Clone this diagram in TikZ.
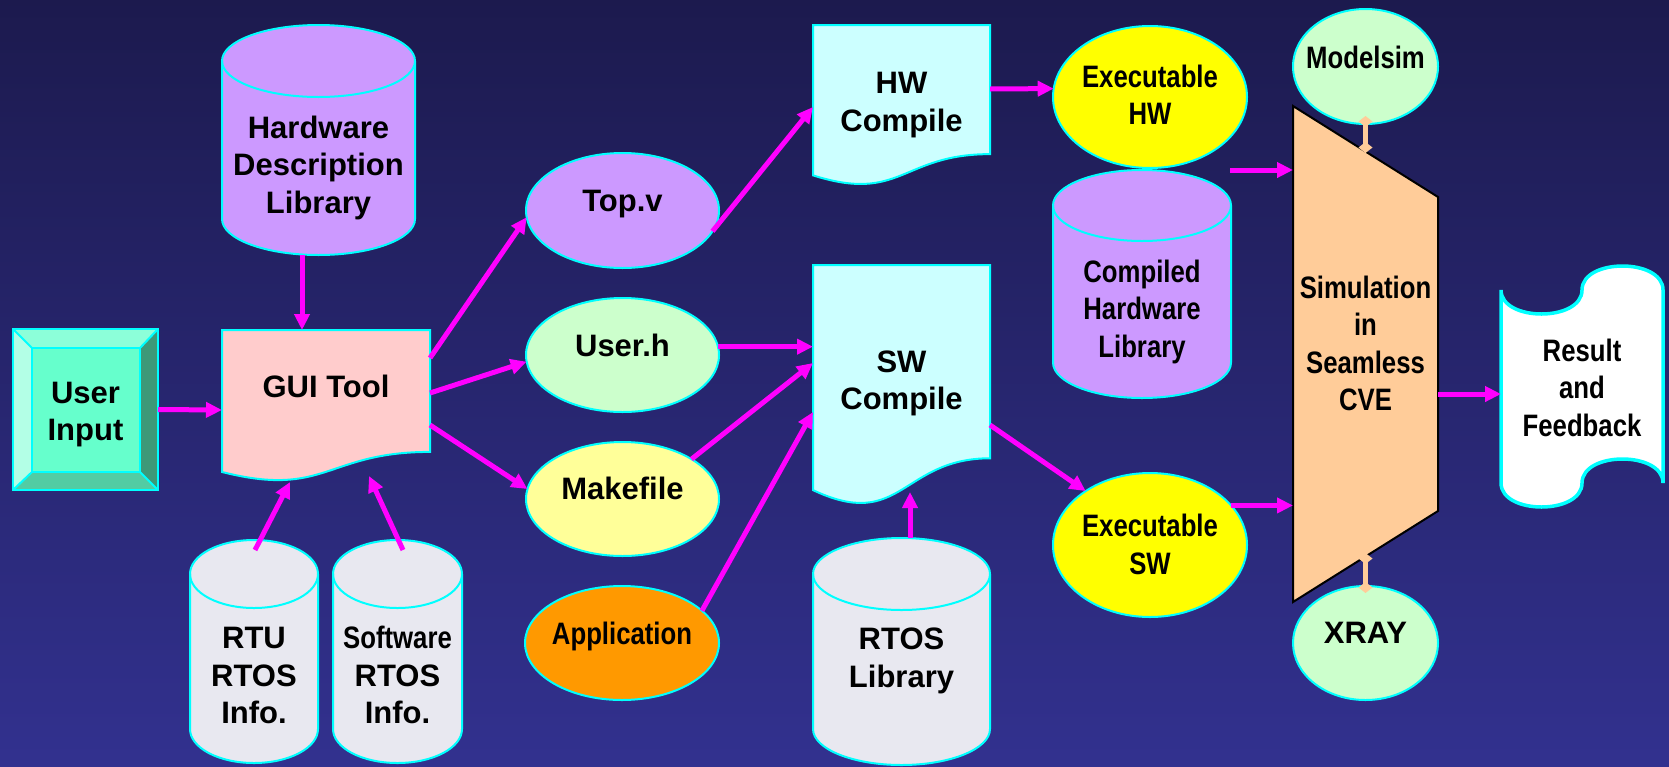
\documentclass[tikz,border=0pt]{standalone}
\usepackage{fontspec}
\setmainfont{Liberation Sans}
\newfontfamily\narrowfont{Liberation Sans}[FakeStretch=0.83]
\usetikzlibrary{shapes.geometric,arrows.meta,calc}

\definecolor{bgtop}{RGB}{28,26,78}
\definecolor{bgbot}{RGB}{50,49,143}
\definecolor{edge}{RGB}{0,255,255}
\definecolor{link}{RGB}{255,0,255}
\definecolor{lilac}{RGB}{204,153,255}
\definecolor{mint}{RGB}{204,255,204}
\definecolor{cream}{RGB}{255,255,153}
\definecolor{amber}{RGB}{255,153,0}
\definecolor{lemon}{RGB}{255,255,0}
\definecolor{ice}{RGB}{204,255,255}
\definecolor{blush}{RGB}{255,204,204}
\definecolor{silver}{RGB}{232,232,240}
\definecolor{peach}{RGB}{255,204,153}
\definecolor{keyface}{RGB}{102,255,204}
\definecolor{keytop}{RGB}{140,255,217}
\definecolor{keyleft}{RGB}{179,255,230}
\definecolor{keyright}{RGB}{61,153,120}
\definecolor{keybottom}{RGB}{82,204,163}

\newcommand\bigfont{\fontsize{31pt}{37.5pt}\selectfont\bfseries}
\newcommand\slimfont{\narrowfont\fontsize{31pt}{37.5pt}\selectfont\bfseries}
% text with fixed strut above the first line and below the last line
\newcommand\padtext[3]{\rule{0pt}{#1pt}#3\rule[-#2pt]{0pt}{#2pt}}

% flowchart document outline around a node
\newcommand\docpath[2]{%
  \filldraw[fill=#2, rim] (#1.north west) -- (#1.north east)
    -- ($(#1.north east)!0.802!(#1.south east)$)
    .. controls ($(#1.north)!0.802!(#1.south)$) and ($(#1.north)!1.1075!(#1.south)$)
    .. ($(#1.north west)!0.934!(#1.south west)$) -- cycle;}

% database cylinder around a node: node, x radius, y radius, fill
\newcommand\cylpath[4]{%
  \filldraw[fill=#4, rim] ($(#1.north west)+(0,#3)$) -- ($(#1.south west)+(0,-#3)$)
    arc[start angle=180, end angle=360, x radius=#2pt, y radius=#3pt]
    -- ($(#1.north east)+(0,#3)$)
    arc[start angle=0, end angle=180, x radius=#2pt, y radius=#3pt] -- cycle;
  \draw[rim] ($(#1.north west)+(0,#3)$)
    arc[start angle=180, end angle=360, x radius=#2pt, y radius=#3pt];}

\pgfdeclarelayer{bg}
\pgfdeclarelayer{shapes}
\pgfsetlayers{bg,shapes,main}

\tikzset{
  txtnode/.style={inner sep=0pt, outer sep=0pt, align=center, font=\bigfont, text=black},
  slim/.style={font=\slimfont},
  ovalnode/.style={txtnode, ellipse, draw=edge, line width=2pt, fill=#1,
                   inner xsep=-25pt, inner ysep=-15pt},
  rim/.style={draw=edge, line width=2pt},
  flowarrow/.style={draw=link, line width=5pt, -{Triangle[length=16pt,width=15pt]}},
  tiebar/.style={draw=peach, line width=5pt,
                 {Diamond[length=11pt,width=14pt]}-{Diamond[length=11pt,width=14pt]}},
}

\begin{document}
\begin{tikzpicture}[x=1pt, y=-1pt]
\useasboundingbox (0,0) rectangle (1669,766);
\begin{pgfonlayer}{bg}
  \shade[top color=bgtop, bottom color=bgbot] (0,0) rectangle (1669,766);
\end{pgfonlayer}

% ---------- nodes ----------
\node[txtnode, minimum width=145pt, minimum height=161pt] (userin) at (85.5,409.5)
  {\padtext{33}{7.8}{User\\Input}};
\node[txtnode, minimum width=208pt, minimum height=152pt] (gui) at (326,406)
  {\padtext{24}{40.8}{GUI Tool}};
\node[txtnode, minimum width=193pt, minimum height=230pt] (hdl) at (318.5,140)
  {\padtext{78.2}{7}{Hardware\\Description\\Library}};
\node[txtnode, minimum width=128pt, minimum height=223pt] (rtu) at (254,651.5)
  {\padtext{76.2}{7}{RTU\\RTOS\\Info.}};
\node[txtnode, minimum width=129pt, minimum height=223pt] (swr) at (397.5,651.5)
  {\padtext{76.2}{7}{{\slimfont Software}\\RTOS\\Info.}};

\node[ovalnode=lilac, minimum width=193pt, minimum height=115pt] (topv) at (622.5,210.5)
  {\padtext{24}{22.8}{Top.v}};
\node[ovalnode=mint, minimum width=193pt, minimum height=114pt] (userh) at (622.5,355)
  {\padtext{24}{21.8}{User.h}};
\node[ovalnode=cream, minimum width=193pt, minimum height=114pt] (makef) at (622.5,499)
  {\padtext{24}{23.8}{Makefile}};
\node[ovalnode=amber, slim, minimum width=194pt, minimum height=114pt] (appl) at (622,643)
  {\padtext{24}{21.8}{Application}};

\node[txtnode, minimum width=177pt, minimum height=161pt] (hwc) at (901.5,105.5)
  {\padtext{24}{9.8}{HW\\Compile}};
\node[txtnode, minimum width=177pt, minimum height=241pt] (swc) at (901.5,385.5)
  {\padtext{24}{12.8}{SW\\Compile}};
\node[txtnode, minimum width=177pt, minimum height=227pt] (rtosl) at (901.5,651.5)
  {\padtext{41.2}{7}{RTOS\\Library}};

\node[ovalnode=lemon, slim, minimum width=194pt, minimum height=142pt] (exhw) at (1150,97)
  {\padtext{25.2}{7}{Executable\\HW}};
\node[ovalnode=lemon, slim, minimum width=194pt, minimum height=144pt] (exsw) at (1150,545)
  {\padtext{28.2}{7}{Executable\\SW}};
\node[txtnode, slim, minimum width=178pt, minimum height=228pt] (chl) at (1142,284)
  {\padtext{78.2}{7}{Compiled\\Hardware\\Library}};

\node[txtnode, slim, minimum width=145pt, minimum height=496pt] (sim) at (1365.5,354)
  {\padtext{24}{22.8}{Simulation\\in\\Seamless\\CVE}};
\node[ovalnode=mint, slim, minimum width=145pt, minimum height=115pt] (msim) at (1365.5,66.5)
  {\padtext{24}{20.8}{Modelsim}};
\node[ovalnode=mint, minimum width=145pt, minimum height=114pt] (xray) at (1365.5,643)
  {\padtext{24}{23.8}{XRAY}};
\node[txtnode, slim, minimum width=162pt, minimum height=241pt] (res) at (1582,386.5)
  {\padtext{31.2}{7}{Result\\and\\Feedback}};

% ---------- shapes behind the texts ----------
\begin{pgfonlayer}{shapes}
  % bevelled key
  \coordinate (k1) at ($(userin.north west)+(19,19)$);
  \coordinate (k2) at ($(userin.north east)+(-18,19)$);
  \coordinate (k3) at ($(userin.south east)+(-18,-18)$);
  \coordinate (k4) at ($(userin.south west)+(19,-18)$);
  \fill[keytop] (userin.north west) -- (userin.north east) -- (k2) -- (k1) -- cycle;
  \fill[keyright] (userin.north east) -- (userin.south east) -- (k3) -- (k2) -- cycle;
  \fill[keybottom] (userin.south east) -- (userin.south west) -- (k4) -- (k3) -- cycle;
  \fill[keyleft] (userin.south west) -- (userin.north west) -- (k1) -- (k4) -- cycle;
  \fill[keyface] (k1) rectangle (k3);
  \draw[rim] (userin.north west) rectangle (userin.south east);
  \draw[rim] (k1) rectangle (k3);
  \draw[rim] (userin.north west) -- (k1) (userin.north east) -- (k2)
             (userin.south east) -- (k3) (userin.south west) -- (k4);

  % documents
  \docpath{gui}{blush}
  \docpath{hwc}{ice}
  \docpath{swc}{ice}

  % databases
  \cylpath{hdl}{96.5}{36}{lilac}
  \cylpath{rtu}{64}{34}{silver}
  \cylpath{swr}{64.5}{34}{silver}
  \cylpath{chl}{89}{35.5}{lilac}
  \cylpath{rtosl}{88.5}{36}{silver}

  % simulation block
  \filldraw[fill=peach, draw=black, line width=2pt]
    (sim.north west) -- ($(sim.north east)+(0,91)$) -- ($(sim.south east)+(0,-91)$)
    -- (sim.south west) -- cycle;

  % punched tape
  \filldraw[fill=white, draw=edge, line width=3.5pt]
    ($(res.north west)+(0,24)$)
    .. controls ($(res.north west)+(0,56)$) and ($(res.north west)+(81,56)$) .. ($(res.north west)+(81,24)$)
    .. controls ($(res.north west)+(81,-8)$) and ($(res.north west)+(162,-8)$) .. ($(res.north east)+(0,24)$)
    -- ($(res.south east)+(0,-24)$)
    .. controls ($(res.south east)+(0,-56)$) and ($(res.south east)+(-81,-56)$) .. ($(res.south east)+(-81,-24)$)
    .. controls ($(res.south east)+(-81,8)$) and ($(res.south east)+(-162,8)$) .. ($(res.south west)+(0,-24)$)
    -- cycle;
\end{pgfonlayer}

% ---------- connectors ----------
\draw[flowarrow] (userin.east) -- ([yshift=-4pt]gui.west);
\draw[flowarrow] ([xshift=-16.5pt]hdl.south) -- ([xshift=-24pt]gui.north);
\draw[flowarrow] ([xshift=1pt,yshift=-10pt]rtu.north) -- ([xshift=-36pt]gui.south);
\draw[flowarrow] ([xshift=5.5pt,yshift=-10pt]swr.north) -- ([xshift=43pt,yshift=6pt]gui.south);
\draw[flowarrow] ([yshift=48pt]gui.east) -- (topv.184);
\draw[flowarrow] ([yshift=13pt]gui.east) -- (userh.184);
\draw[flowarrow] ([yshift=-19pt]gui.east) -- (makef.174);
\draw[flowarrow] (topv.-13) -- ([yshift=-1.5pt]hwc.west);
\draw[flowarrow] ([yshift=16.5pt]hwc.east) -- (exhw.175);
\draw[flowarrow] (userh.5) -- (userh.5 -| swc.west);
\draw[flowarrow] (makef.30) -- ([yshift=22.5pt]swc.west);
\draw[flowarrow] (appl.22) -- ([yshift=-26.5pt]swc.west);
\draw[flowarrow] ([xshift=8.5pt]rtosl.north) -- ([xshift=8.5pt,yshift=14pt]swc.south);
\draw[flowarrow] ([yshift=-39.5pt]swc.east) -- (exsw.140);
\coordinate (hwin) at (1230,170);
\draw[flowarrow] (hwin) -- (hwin -| sim.west);
\draw[flowarrow] (exsw.26) -- (exsw.26 -| sim.west);
\draw[flowarrow] ([yshift=-40pt]sim.east) -- ([yshift=-7.5pt]res.west);
\draw[tiebar] ([yshift=8pt]msim.south) -- ([yshift=-47pt]sim.north);
\draw[tiebar] ([yshift=49pt]sim.south) -- ([yshift=-7pt]xray.north);
\end{tikzpicture}
\end{document}
